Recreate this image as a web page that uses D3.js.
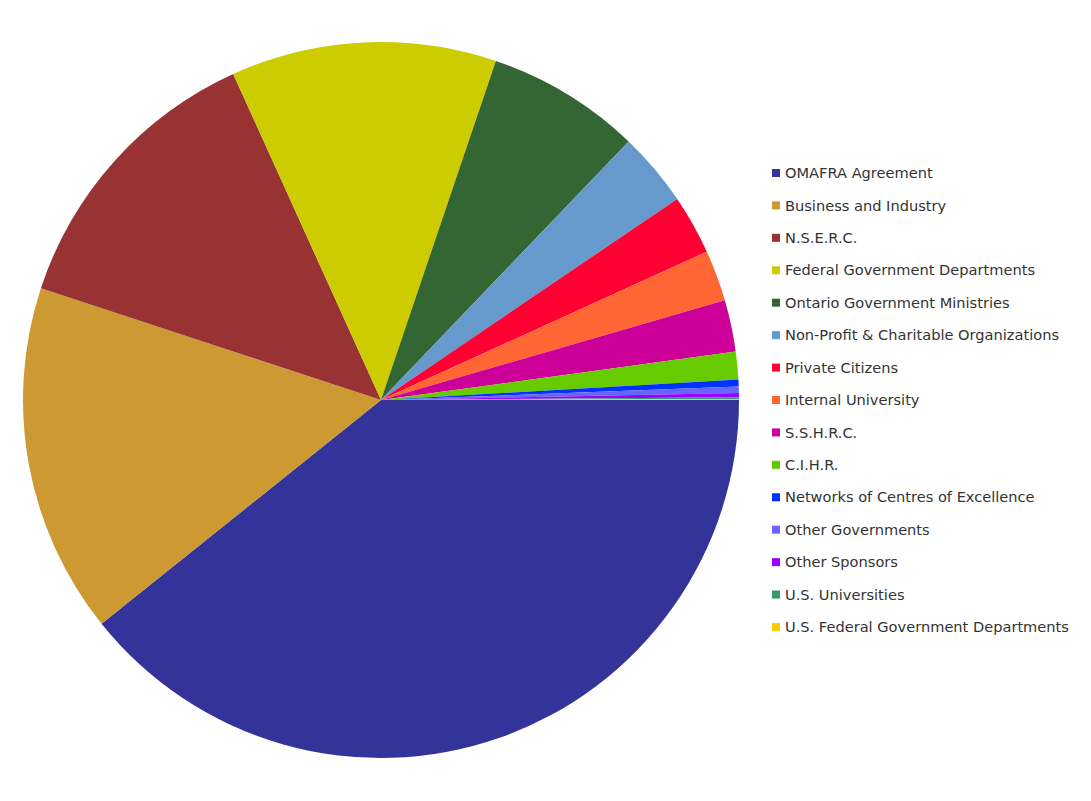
<!DOCTYPE html>
<html>
<head>
<meta charset="utf-8">
<script src="https://cdn.jsdelivr.net/npm/d3@7"></script>
<style>
  body { margin: 0; background: #fff; }
  svg { display: block; }
</style>
</head>
<body>
<div id="chart"></div>
<script>
var width = 1091, height = 801;

// 데이터
var sponsors = ["OMAFRA Agreement", "Business and Industry", "N.S.E.R.C.",
  "Federal Government Departments", "Ontario Government Ministries",
  "Non-Profit & Charitable Organizations", "Private Citizens", "Internal University",
  "S.S.H.R.C.", "C.I.H.R.", "Networks of Centres of Excellence", "Other Governments",
  "Other Sponsors", "U.S. Universities", "U.S. Federal Government Departments"];
var shares = [39.25, 15.8, 13.17, 11.97, 6.96, 3.35, 2.69, 2.31, 2.33, 1.25, 0.31, 0.29, 0.19, 0.08, 0.04];
var colors = ["#333399", "#CC9933", "#993333", "#CCCC00", "#336633", "#6699CC", "#FF0033",
  "#FF6633", "#CC0099", "#66CC00", "#0033FF", "#6666FF", "#9900FF", "#339966", "#FFCC00"];

var cx = 381, cy = 400, radius = 358;

var svg = d3.select("#chart")
  .append("svg")
  .attr("width", width)
  .attr("height", height);

var color = d3.scaleOrdinal().domain(sponsors).range(colors);

// 3시 방향에서 시계방향
var pie = d3.pie()
  .sort(null)
  .value(function(d) { return d.v; })
  .startAngle(Math.PI / 2)
  .endAngle(Math.PI / 2 + 2 * Math.PI);

var arc = d3.arc().innerRadius(0).outerRadius(radius);

var rows = sponsors.map(function(s, i) { return {name: s, v: shares[i]}; });

svg.append("g")
  .attr("transform", "translate(" + cx + "," + cy + ")")
  .selectAll("path")
  .data(pie(rows))
  .enter()
  .append("path")
  .attr("d", arc)
  .attr("fill", function(d) { return color(d.data.name); });

// 범례
var legendY = d3.scalePoint().domain(sponsors).range([173, 627]);

var legend = svg.append("g")
  .selectAll("g")
  .data(sponsors)
  .enter()
  .append("g")
  .attr("transform", function(d) { return "translate(772," + legendY(d) + ")"; });

legend.append("rect")
  .attr("x", 0)
  .attr("y", -4)
  .attr("width", 8)
  .attr("height", 8)
  .attr("fill", function(d) { return color(d); });

legend.append("text")
  .attr("x", 13)
  .attr("y", 0)
  .attr("dy", "0.35em")
  .style("font-family", "'DejaVu Sans', Verdana, sans-serif")
  .style("font-size", "14.6px")
  .style("fill", "#333")
  .text(function(d) { return d; });
</script>
</body>
</html>
